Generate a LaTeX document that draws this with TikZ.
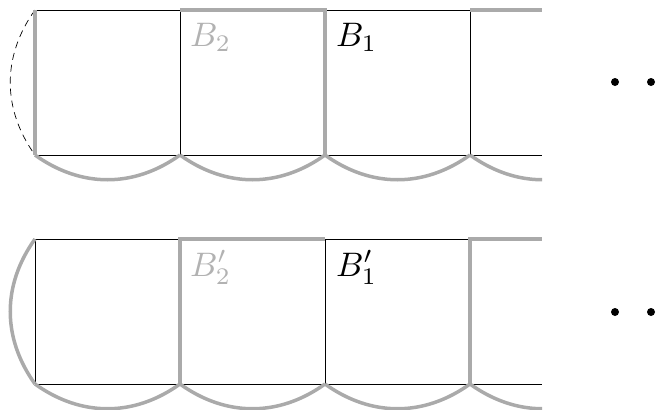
\documentclass[tikz,border=0pt]{standalone}
\usepackage{graphicx}
\definecolor{lg}{RGB}{170,170,170}
\definecolor{lt}{RGB}{178,178,178}
\begin{document}
\begin{tikzpicture}[x=1pt,y=-1pt,
  thinline/.style={line width=0.8pt, black},
  grayline/.style={line width=3.5pt, lg, line join=miter},
  dashline/.style={line width=0.7pt, black, dash pattern=on 7pt off 5pt},
  lab/.style={anchor=base west, inner sep=0pt},
  dot/.style={circle, fill=black, inner sep=0pt, minimum size=8pt}]
\useasboundingbox (0,0) rectangle (657,410);
% ---------- row 1 ----------
\coordinate (t0) at (35,10);  \coordinate (t1) at (180,10);
\coordinate (t2) at (325,10); \coordinate (t3) at (470,10);
\coordinate (tE) at (542,10);
\coordinate (u0) at (35,155);  \coordinate (u1) at (180,155);
\coordinate (u2) at (325,155); \coordinate (u3) at (470,155);
\coordinate (uE) at (542,155); \coordinate (u4) at (615,155);
\begin{scope}
\clip (0,0) rectangle (542,200);
\draw[thinline] (t0) -- (tE);
\draw[thinline] (u0) -- (uE);
\draw[thinline] (t1) -- (u1);
\draw[thinline] (t3) -- (u3);
\draw[dashline] (t0) .. controls (2,56) and (2,109) .. (u0);
\draw[grayline] (t0) -- (u0);
\draw[grayline] (t1) -- (t2) -- (u2);
\draw[grayline] (t3) -- (tE);
\draw[grayline] (u0) .. controls (81,188) and (134,188) .. (u1);
\draw[grayline] (u1) .. controls (226,188) and (279,188) .. (u2);
\draw[grayline] (u2) .. controls (371,188) and (424,188) .. (u3);
\draw[grayline] (u3) .. controls (516,188) and (569,188) .. (u4);
\end{scope}
\node[lab, text=lt] (B2) at (190,46) {\scalebox{3.4}{$B_2$}};
\node[lab] (B1) at (336,46) {\scalebox{3.4}{$B_1$}};
\node[dot] (d1) at (615,82) {};
\node[dot] (d2) at (651,82) {};
% ---------- row 2 ----------
\coordinate (p0) at (35,239);  \coordinate (p1) at (180,239);
\coordinate (p2) at (325,239); \coordinate (p3) at (470,239);
\coordinate (pE) at (542,239);
\coordinate (q0) at (35,384);  \coordinate (q1) at (180,384);
\coordinate (q2) at (325,384); \coordinate (q3) at (470,384);
\coordinate (qE) at (542,384); \coordinate (q4) at (615,384);
\begin{scope}
\clip (0,220) rectangle (542,410);
\draw[thinline] (p0) -- (pE);
\draw[thinline] (q0) -- (qE);
\draw[thinline] (p0) -- (q0);
\draw[thinline] (p2) -- (q2);
\draw[grayline] (p0) .. controls (2,285) and (2,338) .. (q0);
\draw[grayline] (q1) -- (p1) -- (p2);
\draw[grayline] (q3) -- (p3) -- (pE);
\draw[grayline] (q0) .. controls (81,417) and (134,417) .. (q1);
\draw[grayline] (q1) .. controls (226,417) and (279,417) .. (q2);
\draw[grayline] (q2) .. controls (371,417) and (424,417) .. (q3);
\draw[grayline] (q3) .. controls (516,417) and (569,417) .. (q4);
\end{scope}
\node[lab, text=lt] (B2p) at (190,276) {\scalebox{3.4}{$B_2'$}};
\node[lab] (B1p) at (336,276) {\scalebox{3.4}{$B_1'$}};
\node[dot] (d3) at (615,312) {};
\node[dot] (d4) at (651,312) {};
\end{tikzpicture}
\end{document}
